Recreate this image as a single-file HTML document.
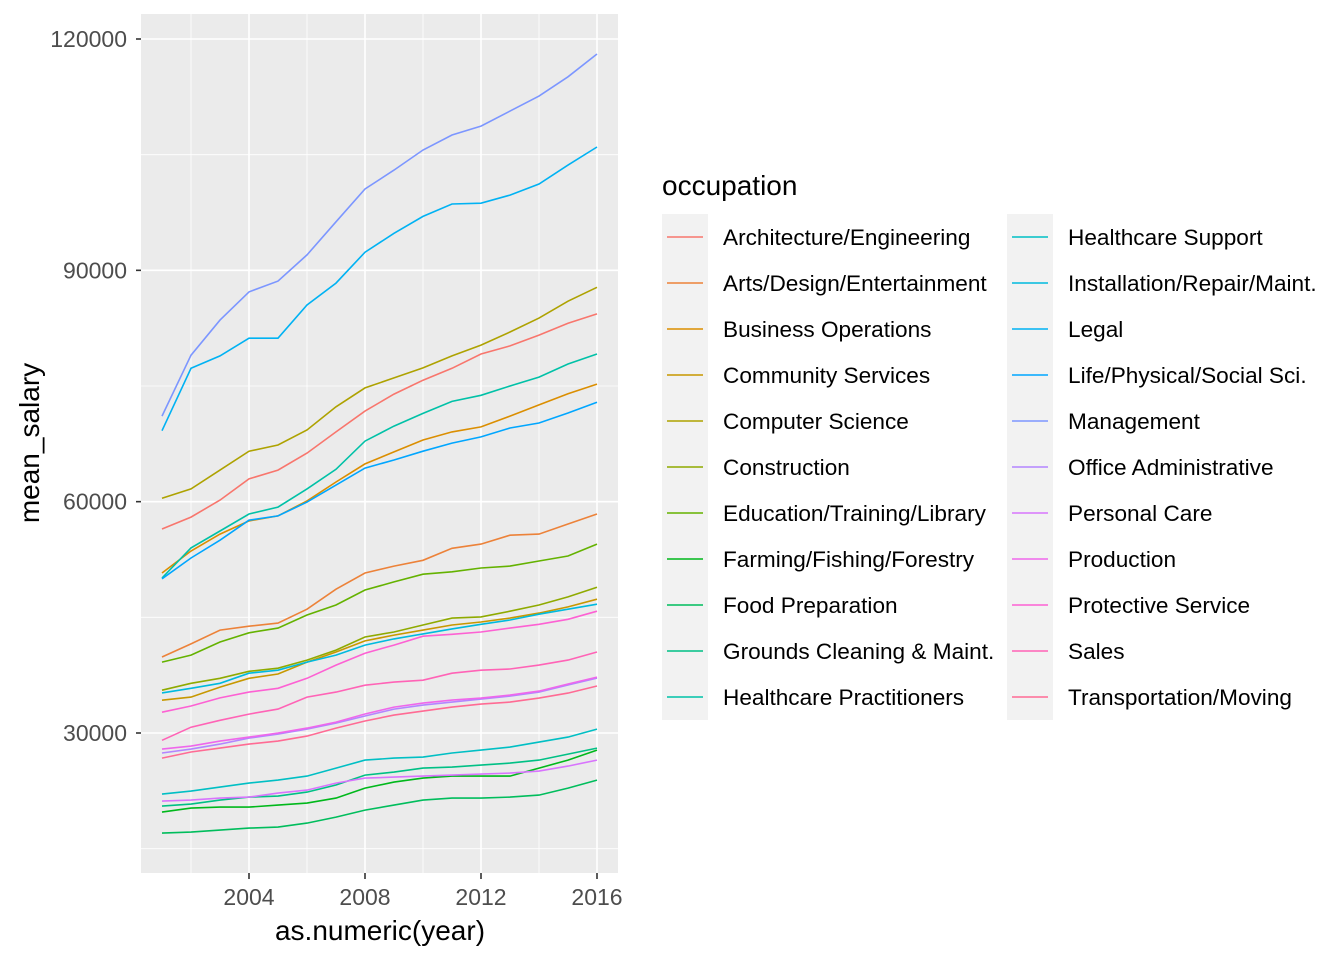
<!DOCTYPE html>
<html><head><meta charset="utf-8">
<style>
html,body{margin:0;padding:0;background:#fff;}
svg{display:block;font-family:"Liberation Sans",Arial,sans-serif;}
</style></head>
<body>
<svg id="chart" width="1344" height="960" viewBox="0 0 1344 960" xmlns="http://www.w3.org/2000/svg">
<rect x="0" y="0" width="1344" height="960" fill="#fff"/>
<g id="panel"></g>
<g id="lines"></g>
<g id="axes"></g>
<text transform="translate(39,443) rotate(-90)" text-anchor="middle" font-size="28" fill="#000">mean_salary</text>
<text x="380" y="940" text-anchor="middle" font-size="28" fill="#000">as.numeric(year)</text>
<g id="legend">
<text x="662" y="195" font-size="28" fill="#000">occupation</text>
</g>
</svg>
<script>
const years = [2001,2002,2003,2004,2005,2006,2007,2008,2009,2010,2011,2012,2013,2014,2015,2016];
const occupations = ["Architecture/Engineering","Arts/Design/Entertainment","Business Operations","Community Services","Computer Science","Construction","Education/Training/Library","Farming/Fishing/Forestry","Food Preparation","Grounds Cleaning & Maint.","Healthcare Practitioners","Healthcare Support","Installation/Repair/Maint.","Legal","Life/Physical/Social Sci.","Management","Office Administrative","Personal Care","Production","Protective Service","Sales","Transportation/Moving"];
const archEng = [56450,58000,60200,62950,64100,66300,69050,71750,73950,75750,77300,79150,80200,81600,83150,84350];
const artsDesign = [39850,41550,43350,43850,44250,46050,48650,50750,51650,52400,53950,54500,55650,55800,57100,58400];
const businessOps = [50750,53600,55800,57500,58150,60100,62550,64900,66450,68000,69050,69700,71100,72550,74000,75250];
const communityServ = [34250,34650,35950,37100,37650,39200,40500,41950,42700,43350,44000,44400,44900,45550,46350,47350];
const computerSci = [60450,61650,64100,66550,67350,69300,72300,74750,76050,77350,78900,80300,82000,83800,86000,87800];
const construction = [35550,36450,37100,38000,38400,39450,40750,42450,43100,44000,44900,45050,45800,46600,47650,48900];
const education = [39200,40100,41800,43000,43600,45300,46600,48550,49600,50600,50900,51400,51650,52300,52950,54500];
const farming = [19740,20260,20390,20390,20650,20910,21560,22860,23630,24150,24410,24410,24410,25450,26480,27780];
const foodPrep = [17020,17150,17410,17670,17800,18320,19100,20000,20650,21300,21560,21560,21690,21950,22860,23890];
const grounds = [20520,20780,21300,21690,21820,22340,23250,24540,24930,25450,25580,25840,26100,26480,27260,28040];
const hcPract = [50100,54000,56200,58400,59300,61650,64200,67850,69800,71450,73000,73800,75000,76150,77850,79150];
const hcSupport = [22080,22470,22980,23500,23890,24410,25450,26480,26740,26880,27400,27780,28170,28820,29470,30510];
const installation = [35200,35800,36450,37750,38150,39200,40100,41400,42200,42850,43500,44100,44650,45400,46050,46700];
const legal = [69200,77300,78900,81200,81200,85500,88350,92350,94800,97000,98600,98700,99750,101200,103650,106000];
const lifeSci = [50000,52700,55000,57600,58150,59950,62150,64350,65400,66550,67600,68400,69550,70200,71500,72900];
const management = [71100,79000,83550,87200,88600,92000,96300,100550,103000,105600,107550,108700,110650,112600,115100,118050];
const officeAdmin = [27400,27910,28560,29340,29860,30510,31290,32200,33100,33620,34010,34400,34790,35310,36220,37120];
const personalCare = [21170,21300,21560,21690,22210,22600,23500,24150,24280,24410,24540,24670,24800,25060,25710,26480];
const production = [27910,28300,28950,29470,29990,30640,31420,32460,33360,33880,34270,34530,34920,35440,36350,37250];
const protective = [32700,33500,34550,35300,35800,37100,38800,40350,41400,42550,42800,43100,43600,44100,44750,45800];
const sales = [29050,30750,31650,32450,33100,34650,35300,36200,36600,36850,37750,38150,38300,38800,39450,40500];
const transport = [26750,27530,28040,28560,28950,29600,30640,31550,32320,32840,33360,33750,34010,34530,35180,36090];
const seriesValues = [archEng,artsDesign,businessOps,communityServ,computerSci,construction,education,farming,foodPrep,grounds,hcPract,hcSupport,installation,legal,lifeSci,management,officeAdmin,personalCare,production,protective,sales,transport];
const yTicks = [30000,60000,90000,120000];
const xTicks = [2004,2008,2012,2016];

const NS="http://www.w3.org/2000/svg";
const PL=141,PR=618,PT=14,PB=873;
const xScale = v => 162 + (v-2001)*(597-162)/15;
const yScale = v => 733 - (v-30000)*(733-39)/90000;
function mk(tag,attrs,parent){const e=document.createElementNS(NS,tag);for(const k in attrs)e.setAttribute(k,attrs[k]);parent.appendChild(e);return e;}

function hcl(h,c,l){
  const Xn=95.047,Yn=100,Zn=108.883;
  const un=4*Xn/(Xn+15*Yn+3*Zn), vn=9*Yn/(Xn+15*Yn+3*Zn);
  const hr=h*Math.PI/180, u=c*Math.cos(hr), v=c*Math.sin(hr);
  const Y = l>8 ? Yn*Math.pow((l+16)/116,3) : Yn*l/903.3;
  const up=u/(13*l)+un, vp=v/(13*l)+vn;
  const X=Y*9*up/(4*vp), Z=Y*(12-3*up-20*vp)/(4*vp);
  const x=X/100,y=Y/100,z=Z/100;
  let r=3.2404542*x-1.5371385*y-0.4985314*z, g=-0.9692660*x+1.8760108*y+0.0415560*z, b=0.0556434*x-0.2040259*y+1.0572252*z;
  const gm=t=>{t=t<=0.0031308?12.92*t:1.055*Math.pow(t,1/2.4)-0.055;return Math.round(255*Math.max(0,Math.min(1,t)));};
  return "rgb("+gm(r)+","+gm(g)+","+gm(b)+")";
}
const colors = occupations.map((o,i)=>hcl(15+i*360/22,100,65));

const panel=document.getElementById('panel');
const bg=mk('rect',{x:PL,y:PT,width:PR-PL,height:PB-PT,fill:'#EBEBEB'},panel);


for(let i=0;i<yTicks.length;i++){
  const v=yTicks[i]-15000;
  const y=yScale(v);
  const l=mk('line',{x1:PL,x2:PR,y1:y,y2:y,stroke:'#fff','stroke-width':0.8},panel);
  
  
}
for(let i=0;i<xTicks.length;i++){
  const x=xScale(xTicks[i]-2);
  const l=mk('line',{x1:x,x2:x,y1:PT,y2:PB,stroke:'#fff','stroke-width':0.8},panel);
  
  
}
const axes=document.getElementById('axes');
yTicks.forEach(t=>{
  const y=yScale(t);
  const l=mk('line',{x1:PL,x2:PR,y1:y,y2:y,stroke:'#fff','stroke-width':1.6},panel);
  
  
  const tk=mk('line',{x1:PL-5,x2:PL,y1:y,y2:y,stroke:'#333','stroke-width':1.6},axes);
  
  
  const tx=mk('text',{x:PL-14,y:y+8,'text-anchor':'end','font-size':23,fill:'#4D4D4D'},axes);
  tx.textContent=t;
  
  
});
xTicks.forEach(t=>{
  const x=xScale(t);
  const l=mk('line',{x1:x,x2:x,y1:PT,y2:PB,stroke:'#fff','stroke-width':1.6},panel);
  
  
  const tk=mk('line',{x1:x,x2:x,y1:PB,y2:PB+6,stroke:'#333','stroke-width':1.6},axes);
  
  
  const tx=mk('text',{x:x,y:PB+32,'text-anchor':'middle','font-size':23,fill:'#4D4D4D'},axes);
  tx.textContent=t;
  
  
});
const lines=document.getElementById('lines');
seriesValues.forEach((vals,i)=>{
  const d=vals.map((v,j)=>(j?'L':'M')+xScale(years[j]).toFixed(1)+','+yScale(v).toFixed(1)).join(' ');
  const p=mk('path',{d:d,fill:'none',stroke:colors[i],'stroke-width':1.6},lines);
  
  
});
const legend=document.getElementById('legend');
occupations.forEach((o,i)=>{
  const col=i<11?0:1, row=i%11;
  const kx=col?1007:662, ky=214+row*46;
  const g=mk('g',{},legend);
  
  
  mk('rect',{x:kx,y:ky,width:46,height:46,fill:'#F2F2F2'},g);
  mk('line',{x1:kx+5,x2:kx+41,y1:ky+23,y2:ky+23,stroke:colors[i],'stroke-width':1.6},g);
  const t=mk('text',{x:kx+61,y:ky+31,'font-size':22.6,fill:'#000'},g);
  t.textContent=o;
});
</script>
</body></html>
